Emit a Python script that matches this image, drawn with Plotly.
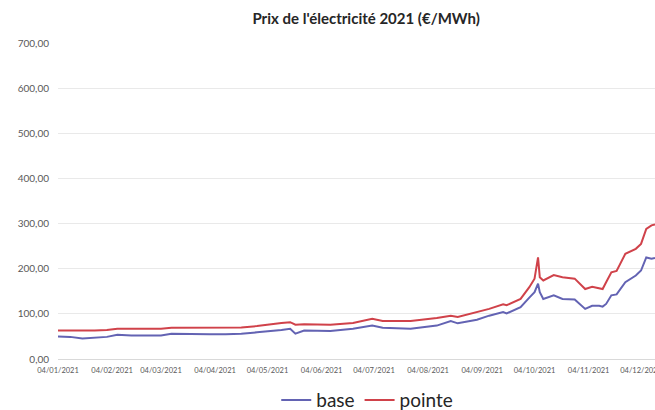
import plotly.graph_objects as go

dates = [
    "2021-01-04", "2021-01-11", "2021-01-18", "2021-01-25", "2021-02-01", "2021-02-07",
    "2021-02-15", "2021-02-25", "2021-03-04", "2021-03-10", "2021-03-20", "2021-04-01",
    "2021-04-10", "2021-04-19", "2021-04-28", "2021-05-05", "2021-05-12", "2021-05-17",
    "2021-05-20", "2021-05-25", "2021-06-09", "2021-06-22", "2021-07-03", "2021-07-09",
    "2021-07-25", "2021-08-09", "2021-08-17", "2021-08-21", "2021-09-01", "2021-09-08",
    "2021-09-16", "2021-09-18", "2021-09-26", "2021-10-01", "2021-10-04", "2021-10-06",
    "2021-10-07", "2021-10-09", "2021-10-15", "2021-10-20", "2021-10-27", "2021-11-02",
    "2021-11-06", "2021-11-10", "2021-11-12", "2021-11-14", "2021-11-17", "2021-11-20",
    "2021-11-25", "2021-12-01", "2021-12-04", "2021-12-07", "2021-12-10", "2021-12-12",
]
base = [
    50, 49, 45.5, 48, 49, 53.5,
    52, 52, 52, 56, 55, 55,
    55, 56, 59, 61, 64, 67,
    56, 63, 62, 67, 74, 69,
    67, 74, 84, 79, 87, 96,
    104, 101, 115, 136, 148, 167,
    148, 133, 141, 133, 132, 111,
    118, 118, 116, 122, 141, 143,
    170, 185, 196, 225, 222, 224,
]
pointe = [
    63, 63, 62, 63, 64, 67,
    67, 67, 67, 69, 69, 69,
    69, 70, 73, 77, 80, 81.5,
    76, 77, 76, 80, 89, 84,
    84, 91, 96, 93, 103, 111,
    121, 119, 133, 159, 178, 225,
    181, 174, 186, 181, 178, 155,
    160, 157, 155, 170, 192, 195,
    233, 244, 255, 288, 296, 298,
]

tick_dates = ["2021-%02d-04" % m for m in range(1, 13)]
tick_labels = ["04/%02d/2021" % m for m in range(1, 13)]
y_ticks = [0, 100, 200, 300, 400, 500, 600, 700]

fig = go.Figure()
fig.add_trace(go.Scatter(x=dates, y=base, mode="lines", name="base",
                         line=dict(color="#6363B3", width=2)))
fig.add_trace(go.Scatter(x=dates, y=pointe, mode="lines", name="pointe",
                         line=dict(color="#D0424A", width=2)))

fig.update_layout(
    width=655, height=410,
    margin=dict(l=58, r=0, t=42.5, b=51, autoexpand=False),
    paper_bgcolor="white", plot_bgcolor="white",
    separators=", ",
    font=dict(family="Lato", color="#595959"),
    title=dict(text="<b>Prix de l'électricité 2021 (€/MWh)</b>",
               x=0.559, xanchor="center", y=0.954, yanchor="middle",
               font=dict(family="Lato", size=15, color="#262626")),
    showlegend=True,
    legend=dict(orientation="h", x=0.518, xanchor="center", y=-0.13, yanchor="middle",
                font=dict(family="Lato", size=19, color="#262626"),
                itemwidth=30, tracegroupgap=0, bgcolor="rgba(0,0,0,0)"),
)
fig.update_xaxes(
    type="date", range=["2021-01-04", "2021-12-12"],
    tickvals=tick_dates, ticktext=tick_labels, tickangle=0,
    tickfont=dict(size=7.5, color="#595959"), ticklabeloverflow="allow",
    ticklabelstandoff=4,
    showgrid=False, showline=True, linecolor="#d9d9d9", linewidth=1,
    ticks="", zeroline=False,
)
fig.update_yaxes(
    range=[0, 700], tickvals=y_ticks, tickformat=".2f",
    tickfont=dict(size=10, color="#595959"),
    showgrid=True, gridcolor="#e9e9e9", gridwidth=1,
    showline=False, zeroline=False, ticks="", ticklabelstandoff=8,
)

fig.write_html("out.html", config={"displayModeBar": False},
               post_script="document.body.style.margin='0';")
